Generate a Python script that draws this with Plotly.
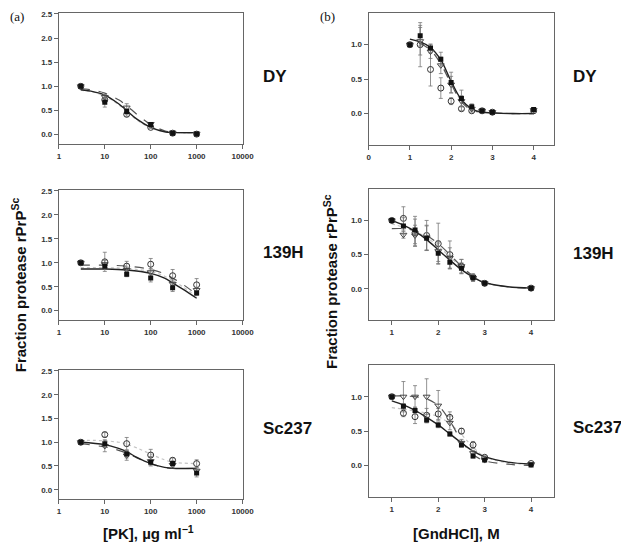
import plotly.graph_objects as go

# ---------------- data ----------------
pk_x = [3, 10, 30, 100, 300, 1000]
gnd_x = [1, 1.25, 1.5, 1.75, 2, 2.25, 2.5, 2.75, 3, 4]

# (a) PK panels: squares / circles / triangles with errors
pk_dy_sq = [1.0, 0.67, 0.48, 0.21, 0.03, 0.01]
pk_dy_sq_err = [0, 0.1, 0.06, 0.03, 0.01, 0.01]
pk_dy_ci = [1.0, 0.72, 0.42, 0.15, 0.03, 0.01]
pk_dy_ci_err = [0, 0.05, 0.04, 0.02, 0.01, 0.01]
pk_dy_tr = [1.0, 0.78, 0.56, 0.22, 0.04, 0.02]
pk_dy_tr_err = [0, 0.05, 0.08, 0.03, 0.01, 0.01]

pk_139_sq = [1.0, 0.93, 0.76, 0.68, 0.48, 0.37]
pk_139_sq_err = [0, 0.05, 0.05, 0.08, 0.08, 0.05]
pk_139_ci = [1.0, 1.02, 0.93, 0.97, 0.73, 0.54]
pk_139_ci_err = [0, 0.2, 0.1, 0.12, 0.13, 0.13]
pk_139_tr = [1.0, 0.97, 0.85, 0.8, 0.56, 0.43]
pk_139_tr_err = [0, 0.08, 0.06, 0.08, 0.08, 0.06]

pk_sc_sq = [1.0, 0.97, 0.75, 0.58, 0.55, 0.35]
pk_sc_sq_err = [0, 0.08, 0.08, 0.06, 0.06, 0.08]
pk_sc_ci = [1.0, 1.16, 0.97, 0.73, 0.62, 0.55]
pk_sc_ci_err = [0, 0.05, 0.13, 0.12, 0.05, 0.08]
pk_sc_tr = [1.0, 0.92, 0.72, 0.6, 0.52, 0.4]
pk_sc_tr_err = [0, 0.12, 0.1, 0.1, 0.06, 0.06]

# fitted curves (PK)
pk_dy_fit_x = [3, 5, 10, 20, 30, 50, 100, 200, 300, 500, 1000]
pk_dy_fit_solid = [0.93, 0.9, 0.82, 0.64, 0.5, 0.32, 0.15, 0.06, 0.045, 0.04, 0.04]
pk_dy_fit_dash = [0.95, 0.93, 0.86, 0.72, 0.6, 0.42, 0.21, 0.08, 0.05, 0.04, 0.04]
pk_dy_fit_dot = [0.92, 0.89, 0.8, 0.62, 0.48, 0.3, 0.14, 0.06, 0.045, 0.04, 0.04]

pk_139_fit_x = [3, 10, 30, 100, 200, 300, 500, 1000]
pk_139_fit_solid = [0.87, 0.87, 0.85, 0.78, 0.68, 0.58, 0.45, 0.26]
pk_139_fit_dash = [0.95, 0.95, 0.93, 0.86, 0.77, 0.68, 0.55, 0.34]
pk_139_fit_dot = [0.9, 0.9, 0.88, 0.82, 0.72, 0.63, 0.5, 0.3]

pk_sc_fit_x = [3, 10, 20, 30, 50, 100, 200, 300, 1000]
pk_sc_fit_solid = [1.0, 0.95, 0.87, 0.8, 0.68, 0.55, 0.47, 0.45, 0.45]
pk_sc_fit_dash = [0.97, 0.9, 0.83, 0.77, 0.67, 0.55, 0.47, 0.45, 0.45]
pk_sc_fit_dot = [1.04, 1.03, 1.0, 0.96, 0.88, 0.75, 0.63, 0.58, 0.55]

# (b) GndHCl panels
gn_dy_sq = [1.0, 1.13, 0.95, 0.79, 0.45, 0.22, 0.1, 0.04, 0.02, 0.06]
gn_dy_sq_err = [0, 0.15, 0.06, 0.1, 0.15, 0.12, 0.04, 0.01, 0.01, 0.02]
gn_dy_ci = [1.0, 1.0, 0.64, 0.37, 0.18, 0.07, 0.04, 0.04, 0.02, 0.04]
gn_dy_ci_err = [0, 0.32, 0.24, 0.15, 0.05, 0.03, 0.02, 0.01, 0.01, 0.01]
gn_dy_tr = [1.0, 1.05, 0.9, 0.7, 0.42, 0.18, 0.07, 0.04, 0.02, 0.05]
gn_dy_tr_err = [0, 0.2, 0.1, 0.12, 0.12, 0.08, 0.03, 0.01, 0.01, 0.01]

gn_139_sq = [1.0, 0.92, 0.86, 0.74, 0.52, 0.39, 0.3, 0.16, 0.08, 0.01]
gn_139_sq_err = [0, 0.12, 0.2, 0.18, 0.15, 0.1, 0.08, 0.05, 0.02, 0.01]
gn_139_ci = [1.0, 1.03, 0.82, 0.78, 0.66, 0.5, 0.33, 0.17, 0.08, 0.01]
gn_139_ci_err = [0, 0.17, 0.2, 0.22, 0.3, 0.2, 0.1, 0.05, 0.02, 0.01]
gn_139_tr = [1.0, 0.79, 0.78, 0.75, 0.55, 0.45, 0.33, 0.16, 0.08, 0.01]
gn_139_tr_err = [0, 0.05, 0.15, 0.18, 0.15, 0.15, 0.1, 0.05, 0.02, 0.01]

gn_sc_sq = [1.0, 0.86, 0.8, 0.66, 0.59, 0.46, 0.3, 0.14, 0.08, 0.01]
gn_sc_sq_err = [0, 0.04, 0.05, 0.04, 0.04, 0.03, 0.03, 0.03, 0.02, 0.01]
gn_sc_ci = [1.0, 0.76, 0.71, 0.73, 0.75, 0.7, 0.5, 0.3, 0.12, 0.03]
gn_sc_ci_err = [0, 0.05, 0.1, 0.1, 0.08, 0.08, 0.04, 0.05, 0.02, 0.01]
gn_sc_tr = [1.0, 1.0, 1.0, 1.0, 0.87, 0.62, 0.33, 0.18, 0.08, 0.02]
gn_sc_tr_err = [0, 0.22, 0.16, 0.26, 0.22, 0.1, 0.05, 0.04, 0.02, 0.01]

gn_fit_x = [1, 1.25, 1.5, 1.75, 2, 2.25, 2.5, 2.75, 3, 3.5, 4]
gn_dy_fit_solid = [1.08, 1.04, 0.96, 0.78, 0.47, 0.2, 0.07, 0.02, 0.01, 0.0, 0.0]
gn_dy_fit_dash = [None, 1.02, 0.92, 0.72, 0.43, 0.17, 0.05, 0.02, 0.01, 0.0, 0.0]
gn_dy_fit_dot = [None, 1.01, 0.93, 0.74, 0.44, 0.18, 0.06, 0.02, 0.01, 0.0, 0.0]

gn_139_fit_solid = [1.0, 0.93, 0.84, 0.72, 0.57, 0.42, 0.28, 0.17, 0.09, 0.03, 0.01]
gn_139_fit_dash = [0.88, 0.88, 0.85, 0.78, 0.66, 0.5, 0.33, 0.19, 0.1, 0.03, 0.01]
gn_139_fit_dot = [0.95, 0.9, 0.84, 0.75, 0.62, 0.47, 0.31, 0.18, 0.09, 0.03, 0.01]

gn_sc_fit_solid = [0.94, 0.88, 0.8, 0.7, 0.59, 0.46, 0.33, 0.21, 0.13, 0.05, 0.02]
gn_sc_fit_dash = [1.01, 1.01, 1.0, 0.97, 0.87, 0.65, 0.36, 0.16, 0.07, 0.02, 0.0]
gn_sc_fit_dot = [0.84, 0.82, 0.79, 0.76, 0.71, 0.61, 0.45, 0.27, 0.13, 0.04, 0.02]

strain_labels = ["DY", "139H", "Sc237"]
pk_ticks = [1, 10, 100, 1000, 10000]
pk_ticktext = ["1", "10", "100", "1000", "10000"]

# ---------------- figure ----------------
# the page body adds an 8px margin on every side; size the figure so the page is exactly the window
OFF = 8
W, H = 629 - 2 * OFF, 552 - 2 * OFF
fig = go.Figure()

panels = [
    (1, pk_x, pk_dy_sq, pk_dy_sq_err, pk_dy_ci, pk_dy_ci_err, pk_dy_tr, pk_dy_tr_err,
     pk_dy_fit_x, pk_dy_fit_solid, pk_dy_fit_dash, pk_dy_fit_dot),
    (2, pk_x, pk_139_sq, pk_139_sq_err, pk_139_ci, pk_139_ci_err, pk_139_tr, pk_139_tr_err,
     pk_139_fit_x, pk_139_fit_solid, pk_139_fit_dash, pk_139_fit_dot),
    (3, pk_x, pk_sc_sq, pk_sc_sq_err, pk_sc_ci, pk_sc_ci_err, pk_sc_tr, pk_sc_tr_err,
     pk_sc_fit_x, pk_sc_fit_solid, pk_sc_fit_dash, pk_sc_fit_dot),
    (4, gnd_x, gn_dy_sq, gn_dy_sq_err, gn_dy_ci, gn_dy_ci_err, gn_dy_tr, gn_dy_tr_err,
     gn_fit_x, gn_dy_fit_solid, gn_dy_fit_dash, gn_dy_fit_dot),
    (5, gnd_x, gn_139_sq, gn_139_sq_err, gn_139_ci, gn_139_ci_err, gn_139_tr, gn_139_tr_err,
     gn_fit_x, gn_139_fit_solid, gn_139_fit_dash, gn_139_fit_dot),
    (6, gnd_x, gn_sc_sq, gn_sc_sq_err, gn_sc_ci, gn_sc_ci_err, gn_sc_tr, gn_sc_tr_err,
     gn_fit_x, gn_sc_fit_solid, gn_sc_fit_dash, gn_sc_fit_dot),
]

for (i, x, sq, sqe, ci, cie, tr, tre, fx, fs, fd, fo) in panels:
    xa = "x" if i == 1 else f"x{i}"
    ya = "y" if i == 1 else f"y{i}"
    fig.add_trace(go.Scatter(x=fx, y=fo, mode="lines", line=dict(color="#c4c4c4", width=1.2, dash="dot", shape="spline"),
                             xaxis=xa, yaxis=ya, showlegend=False))
    fig.add_trace(go.Scatter(x=fx, y=fd, mode="lines", line=dict(color="#555555", width=1.2, dash="dash", shape="spline"),
                             xaxis=xa, yaxis=ya, showlegend=False))
    fig.add_trace(go.Scatter(x=fx, y=fs, mode="lines", line=dict(color="#222222", width=1.4, shape="spline"),
                             xaxis=xa, yaxis=ya, showlegend=False))
    eb = dict(type="data", thickness=0.8, width=2, color="#777777")
    fig.add_trace(go.Scatter(x=x, y=ci, mode="markers",
                             error_y=dict(array=cie, **eb),
                             marker=dict(symbol="circle-open", size=6, color="#333333", line=dict(width=1)),
                             xaxis=xa, yaxis=ya, showlegend=False))
    fig.add_trace(go.Scatter(x=x, y=tr, mode="markers",
                             error_y=dict(array=tre, **eb),
                             marker=dict(symbol="triangle-down-open", size=6, color="#444444", line=dict(width=1)),
                             xaxis=xa, yaxis=ya, showlegend=False))
    fig.add_trace(go.Scatter(x=x, y=sq, mode="markers",
                             error_y=dict(array=sqe, **eb),
                             marker=dict(symbol="square", size=5, color="#111111"),
                             xaxis=xa, yaxis=ya, showlegend=False))


def px(v):
    return (v - OFF) / W


def py(v):
    return 1 - (v - OFF) / H


def dom_x(a, b):
    return [px(a), px(b)]


def dom_y(top, bottom):
    return [py(bottom), py(top)]


tickfont = dict(family="Liberation Sans, Arial, sans-serif", size=8, color="#333333", weight="bold")
common = dict(showline=True, mirror=True, linecolor="#666666", linewidth=1, ticks="outside",
              ticklen=4, tickcolor="#666666", showgrid=False, zeroline=False, tickfont=tickfont)

left_rows = [(10, 142), (188, 319), (369, 499)]
right_rows = [(10, 143), (187, 319), (364, 497)]

layout = {}
for r in range(3):
    i = r + 1
    xk = "xaxis" if i == 1 else f"xaxis{i}"
    yk = "yaxis" if i == 1 else f"yaxis{i}"
    layout[xk] = dict(domain=dom_x(58, 246), type="log", range=[0, 4], tickvals=pk_ticks,
                      ticktext=pk_ticktext, anchor="y" if i == 1 else f"y{i}", **common)
    layout[yk] = dict(domain=dom_y(*left_rows[r]), range=[-0.2, 2.52], tickvals=[0, 0.5, 1, 1.5, 2, 2.5],
                      tickformat=".1f", anchor="x" if i == 1 else f"x{i}", **common)
for r in range(3):
    i = r + 4
    xk = f"xaxis{i}"
    yk = f"yaxis{i}"
    if r == 0:
        xr, tv = [0, 4.5], [0, 1, 2, 3, 4]
    else:
        xr, tv = [0.5, 4.5], [1, 2, 3, 4]
    layout[xk] = dict(domain=dom_x(375, 565), range=xr, tickvals=tv, anchor=f"y{i}", **common)
    layout[yk] = dict(domain=dom_y(*right_rows[r]), range=[-0.46, 1.46], tickvals=[0, 0.5, 1.0],
                      tickformat=".1f", anchor=f"x{i}", **common)

fig.update_layout(**layout)

annotations = []
bold_font = dict(family="Liberation Sans, Arial, sans-serif", size=17, color="#111111", weight="bold")
left_label_y = [74, 251, 428]
right_label_y = [74, 252, 427]
for r, lab in enumerate(strain_labels):
    annotations.append(dict(x=px(265), y=py(left_label_y[r]), xref="paper", yref="paper", text=lab,
                            showarrow=False, font=bold_font, xanchor="left", yanchor="middle"))
    annotations.append(dict(x=px(582), y=py(right_label_y[r]), xref="paper", yref="paper", text=lab,
                            showarrow=False, font=bold_font, xanchor="left", yanchor="middle"))

serif = dict(family="Liberation Serif, Times New Roman, serif", size=13, color="#111111")
annotations.append(dict(x=px(15), y=py(14), xref="paper", yref="paper", text="(a)", showarrow=False,
                        font=serif, xanchor="center", yanchor="middle"))
annotations.append(dict(x=px(333), y=py(14), xref="paper", yref="paper", text="(b)", showarrow=False,
                        font=serif, xanchor="center", yanchor="middle"))

title_font = dict(family="Liberation Sans, Arial, sans-serif", size=15, color="#111111", weight="bold")
ytitle = "Fraction protease rPrP<sup>Sc</sup>"
annotations.append(dict(x=px(17), y=py(283), xref="paper", yref="paper", text=ytitle, textangle=-90,
                        showarrow=False, font=title_font, xanchor="center", yanchor="middle"))
annotations.append(dict(x=px(336), y=py(280), xref="paper", yref="paper", text=ytitle, textangle=-90,
                        showarrow=False, font=title_font, xanchor="center", yanchor="middle"))
annotations.append(dict(x=px(150), y=py(544), xref="paper", yref="paper", text="[PK], µg ml<sup>−1</sup>",
                        showarrow=False, font=title_font, xanchor="center", yanchor="bottom"))
annotations.append(dict(x=px(465), y=py(544), xref="paper", yref="paper", text="[GndHCl], M",
                        showarrow=False, font=title_font, xanchor="center", yanchor="bottom"))

fig.update_layout(width=W, height=H, margin=dict(l=0, r=0, t=0, b=0), paper_bgcolor="white",
                  plot_bgcolor="white", annotations=annotations, showlegend=False)

fig.write_html("out.html")
